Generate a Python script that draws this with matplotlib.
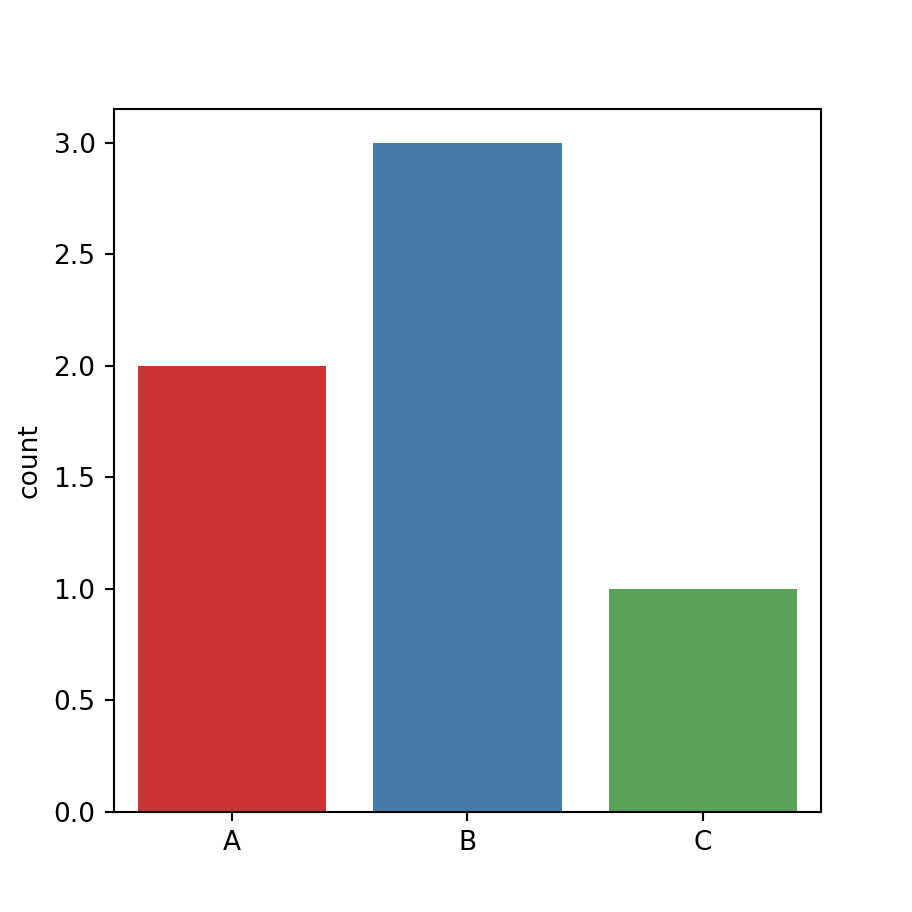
import matplotlib
matplotlib.use("Agg")
import matplotlib.pyplot as plt
import seaborn as sns

categories = ["A", "B", "C"]
counts = [2, 3, 1]

colors = sns.color_palette("Set1", 3, desat=0.75)

fig, ax = plt.subplots(figsize=(4.8, 4.8), dpi=190)
ax.bar(categories, counts, width=0.8, color=colors)
ax.set_xlim(-0.5, 2.5)
ax.set_ylabel("count")
fig.savefig("out.png")
